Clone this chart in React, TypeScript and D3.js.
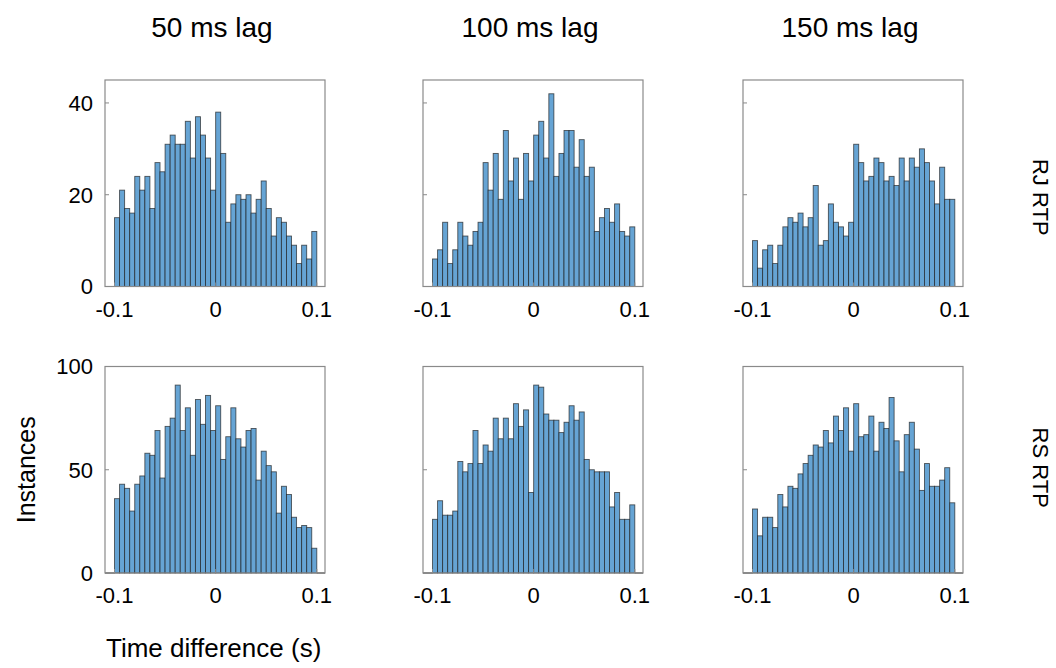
import React from "react";
import * as d3 from "d3";

// Bin counts, 40 bins of 0.005 s from -0.1 to 0.1
const rj50 = [15,21,17,16,24,21,24,17,27,25,31,33,31,31,36,28,37,33,28,21,38,29,14,18,20,19,20,16,19,23,17,11,15,14,11,9,5,9,6,12];
const rj100 = [6,8,14,5,8,14,11,9,12,14,27,21,29,19,34,23,28,19,29,23,33,36,28,42,24,29,34,34,26,32,24,26,12,15,17,14,18,12,11,13];
const rj150 = [10,4,8,9,5,9,13,15,14,16,13,15,22,9,10,18,14,13,11,14,31,27,23,24,28,27,23,24,22,28,23,28,26,30,27,23,18,26,19,19];
const rs50 = [36,43,41,30,43,47,58,57,69,46,71,75,91,69,80,57,84,72,86,69,81,55,66,80,65,61,69,70,45,59,52,49,29,42,38,27,22,23,22,12];
const rs100 = [26,35,28,28,30,54,49,53,69,53,62,59,75,65,75,65,82,71,79,39,91,90,77,74,74,68,73,81,74,78,55,50,49,49,49,32,39,26,26,33];
const rs150 = [31,18,27,27,22,38,32,42,41,48,53,57,62,61,69,63,76,69,80,59,82,66,67,76,59,73,70,85,64,49,67,73,60,40,53,42,42,45,51,34];

const binStart = -0.1;
const binWidth = 0.005;
const xTicks = [-0.1, 0, 0.1];
const xTickLabels = ["-0.1", "0", "0.1"];
const topYTicks = [0, 20, 40];
const bottomYTicks = [0, 50, 100];
const topYMax = 45;
const bottomYMax = 100;
const colTitles = ["50 ms lag", "100 ms lag", "150 ms lag"];
const rowLabels = ["RJ RTP", "RS RTP"];
const rows = [[rj50, rj100, rj150], [rs50, rs100, rs150]];

const FONT = "'Liberation Sans', Arial, Helvetica, sans-serif";
const colLeft = [105, 423, 743];
const panelW = 220;
const rowTop = [80, 366.5];
const panelH = 206.5;
const rowLabelOffset = [14, -2];
const xDomain: [number, number] = [-0.1094, 0.1081];

function Panel({ data, left, top, yMax, yTicks, showYLabels }: any) {
  const x = d3.scaleLinear().domain(xDomain).range([left, left + panelW]);
  const y = d3.scaleLinear().domain([0, yMax]).range([top + panelH, top]);
  const bottom = top + panelH;
  const frame = "#8a8a8a";
  return (
    <g>
      {data.map((v: number, i: number) => {
        const x0 = x(binStart + i * binWidth);
        const x1 = x(binStart + (i + 1) * binWidth);
        return (
          <rect
            key={i}
            x={x0}
            y={y(v)}
            width={x1 - x0}
            height={y(0) - y(v)}
            fill="#66a4d4"
            stroke="#1a1a1a"
            strokeOpacity={0.7}
            strokeWidth={0.9}
          />
        );
      })}
      <line x1={x(xDomain[0])} x2={x(-0.1)} y1={y(0)} y2={y(0)} stroke="#1a1a1a" strokeWidth={1} />
      <line x1={x(0.1)} x2={x(xDomain[1])} y1={y(0)} y2={y(0)} stroke="#1a1a1a" strokeWidth={1} />
      <rect x={left} y={top} width={panelW} height={panelH} fill="none" stroke={frame} strokeWidth={1.2} />
      {yTicks.map((t: number) => (
        <g key={"y" + t}>
          <line x1={left} x2={left + 4} y1={y(t)} y2={y(t)} stroke={frame} strokeWidth={1} />
          {showYLabels && (
            <text x={left - 12} y={y(t)} dy="0.36em" textAnchor="end" fontFamily={FONT} fontSize={22} fill="#000">
              {t}
            </text>
          )}
        </g>
      ))}
      {xTicks.map((t: number, i: number) => (
        <g key={"x" + t}>
          <line x1={x(t)} x2={x(t)} y1={bottom} y2={bottom - 4} stroke={frame} strokeWidth={1} />
          <text x={x(t)} y={bottom + 30} textAnchor="middle" fontFamily={FONT} fontSize={22} fill="#000">
            {xTickLabels[i]}
          </text>
        </g>
      ))}
    </g>
  );
}

export default function App() {
  return (
    <svg
      width={1056}
      height={668}
      style={{ position: "absolute", left: 0, top: 0, background: "#fff" }}
    >
      <rect x={0} y={0} width={1056} height={668} fill="#fff" />
      {colTitles.map((t, c) => (
        <text key={t} x={colLeft[c] + 107} y={37} textAnchor="middle" fontFamily={FONT} fontSize={28} fill="#000">
          {t}
        </text>
      ))}
      {rows.map((row, r) =>
        row.map((data, c) => (
          <Panel
            key={r + "-" + c}
            data={data}
            left={colLeft[c]}
            top={rowTop[r]}
            yMax={r === 0 ? topYMax : bottomYMax}
            yTicks={r === 0 ? topYTicks : bottomYTicks}
            showYLabels={c === 0}
          />
        ))
      )}
      {rowLabels.map((t, r) => (
        <text
          key={t}
          transform={`translate(1041, ${rowTop[r] + panelH / 2 + rowLabelOffset[r]}) rotate(90)`}
          textAnchor="middle"
          dy="0.35em"
          fontFamily={FONT}
          fontSize={22}
          fill="#000"
        >
          {t}
        </text>
      ))}
      <text
        transform={`translate(26, ${rowTop[1] + panelH / 2}) rotate(-90)`}
        textAnchor="middle"
        dy="0.35em"
        fontFamily={FONT}
        fontSize={25}
        fill="#000"
      >
        Instances
      </text>
      <text x={106} y={657} fontFamily={FONT} fontSize={26} fill="#000">
        Time difference (s)
      </text>
    </svg>
  );
}
